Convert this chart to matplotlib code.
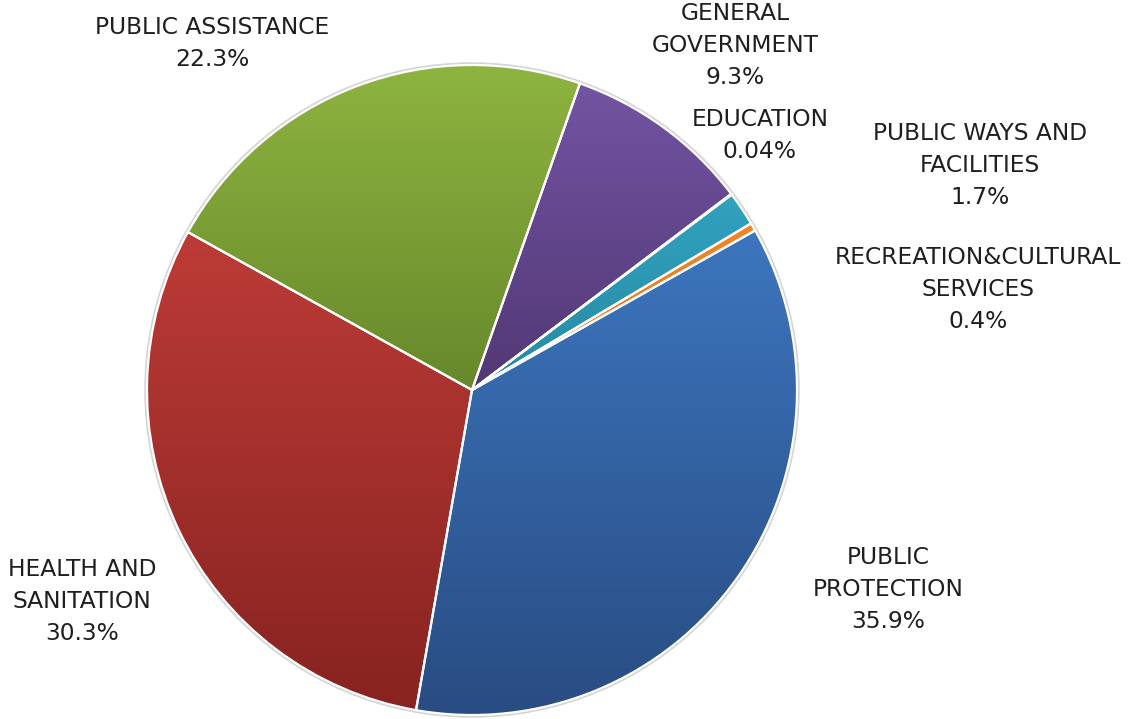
import numpy as np
import matplotlib.pyplot as plt
from matplotlib.colors import LinearSegmentedColormap
from matplotlib.patches import Circle

# slices in clockwise order, starting at the blue one
labels = ["PUBLIC\nPROTECTION", "HEALTH AND\nSANITATION", "PUBLIC ASSISTANCE",
          "GENERAL\nGOVERNMENT", "EDUCATION", "PUBLIC WAYS AND\nFACILITIES",
          "RECREATION&CULTURAL\nSERVICES"]
values = [35.9, 30.3, 22.3, 9.3, 0.04, 1.7, 0.4]
pct_labels = ["35.9%", "30.3%", "22.3%", "9.3%", "0.04%", "1.7%", "0.4%"]

top_colors = ["#3c76be", "#bd3b37", "#8eb440", "#7254a2", "#7f7f7f", "#31a2bf", "#f28626"]
bottom_colors = ["#294c82", "#872320", "#67882b", "#523875", "#5f5f5f", "#268aa4", "#e07418"]

# label centres in pixels (x, y from top)
label_pos = [(888, 590), (82, 602), (212, 43), (735, 46), (760, 135), (980, 166), (978, 289)]

fig = plt.figure(figsize=(11.33, 7.19), dpi=100)
ax = fig.add_axes([0, 0, 1, 1])

cx, cy, r = 472, 719 - 390, 325

ax.add_patch(Circle((cx, cy), r + 1, facecolor="none", edgecolor="#d4d4d4", linewidth=2.5, zorder=0.5))

wedges, _ = ax.pie(values, center=(cx, cy), radius=r, startangle=29.4, counterclock=False,
                   frame=True, wedgeprops=dict(linewidth=1.6, edgecolor="white", facecolor="none"))

grad = np.linspace(0, 1, 256).reshape(-1, 1)
for w, top, bot in zip(wedges, top_colors, bottom_colors):
    ext = w.get_path().get_extents()
    cmap = LinearSegmentedColormap.from_list("g", [bot, top])
    im = ax.imshow(grad, extent=[ext.x0, ext.x1, ext.y0, ext.y1], origin="lower",
                   cmap=cmap, aspect="auto", interpolation="bilinear", zorder=0.8)
    im.set_clip_path(w)
    w.set_zorder(1)

for lab, pct, (x, y) in zip(labels, pct_labels, label_pos):
    ax.text(x, 719 - y, lab + "\n" + pct, ha="center", va="center", fontsize=16.8,
            color="#1f1f1f", linespacing=1.5, family="DejaVu Sans")

ax.set_xlim(0, 1133)
ax.set_ylim(0, 719)
ax.axis("off")

fig.savefig("out.png", dpi=100)
